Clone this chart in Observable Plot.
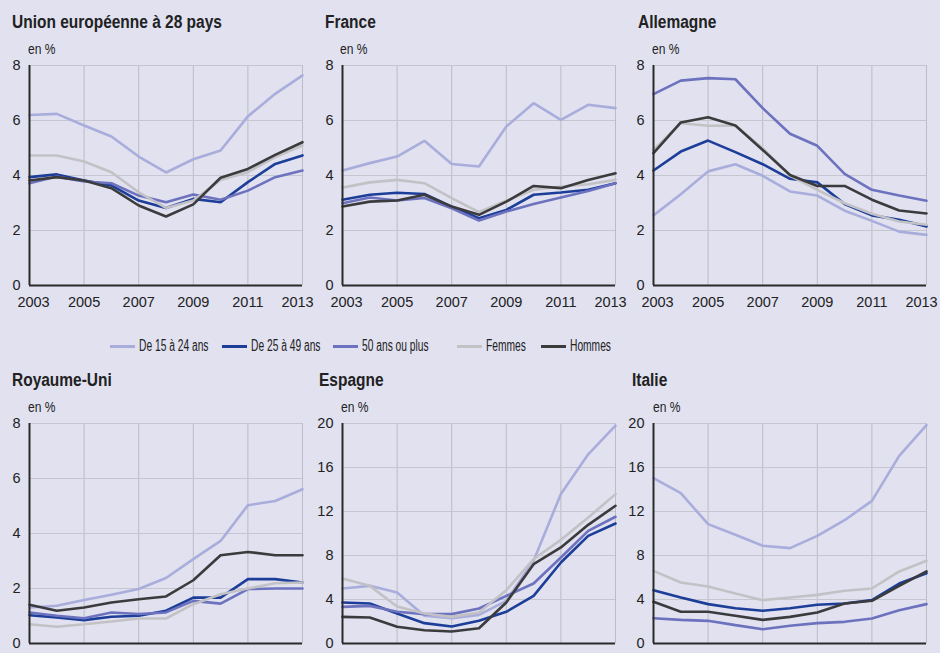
<!DOCTYPE html>
<html><head><meta charset="utf-8">
<script src="https://cdn.jsdelivr.net/npm/d3@7"></script>
<script src="https://cdn.jsdelivr.net/npm/@observablehq/plot@0.6"></script>
<style>
html,body{margin:0;padding:0;background:#e1e1f0;}
#root{position:relative;width:940px;height:653px;overflow:hidden;background:#e1e1f0;font-family:"Liberation Sans",Arial,sans-serif;color:#222;}
.t{position:absolute;font-weight:bold;font-size:18px;line-height:18px;white-space:nowrap;color:#222;transform:scaleX(0.86);transform-origin:left top;}
.u{position:absolute;font-size:14px;line-height:14px;white-space:nowrap;color:#222;transform:scaleX(0.86);transform-origin:left top;}
.p{position:absolute;}
.lg{position:absolute;font-size:16px;line-height:16px;white-space:nowrap;color:#222;transform:scaleX(0.64);transform-origin:left top;}
.sw{position:absolute;height:3px;width:25px;}
</style></head>
<body><div id="root"></div>
<script>
const years = [2003,2004,2005,2006,2007,2008,2009,2010,2011,2012,2013];
const xTicks = [2003,2005,2007,2009,2011,2013];
const series = ["De 15 à 24 ans","De 25 à 49 ans","50 ans ou plus","Femmes","Hommes"];
const colors = ["#a9addb","#1c3e99","#6c72be","#c2c2c6","#3b3b3d"];
const titles = ["Union européenne à 28 pays","France","Allemagne","Royaume-Uni","Espagne","Italie"];
const yTicks8 = [0,2,4,6,8];
const yTicks20 = [0,4,8,12,16,20];

// values per country, in the order of `series`
const ue28 = [
  [6.2,6.24,5.82,5.42,4.69,4.11,4.59,4.91,6.15,6.97,7.64],
  [3.94,4.04,3.82,3.64,3.09,2.82,3.15,3.03,3.76,4.42,4.73],
  [3.72,3.96,3.78,3.72,3.27,3.03,3.31,3.12,3.45,3.94,4.18],
  [4.73,4.73,4.51,4.12,3.39,2.82,3.09,3.84,4.12,4.67,5.09],
  [3.82,3.94,3.82,3.54,2.91,2.51,2.95,3.92,4.24,4.75,5.21]
];
const france = [
  [4.18,4.45,4.69,5.26,4.42,4.33,5.78,6.63,6.02,6.57,6.45],
  [3.12,3.3,3.37,3.33,2.87,2.45,2.75,3.3,3.38,3.48,3.72],
  [2.99,3.2,3.09,3.18,2.81,2.36,2.69,2.96,3.2,3.44,3.72],
  [3.56,3.75,3.84,3.72,3.18,2.67,3.08,3.48,3.6,3.68,3.84],
  [2.87,3.05,3.09,3.3,2.87,2.57,3.05,3.62,3.54,3.84,4.08]
];
const allemagne = [
  [2.55,3.32,4.15,4.41,3.99,3.42,3.27,2.72,2.35,1.96,1.84],
  [4.18,4.87,5.27,4.85,4.41,3.88,3.75,2.96,2.55,2.39,2.15],
  [6.96,7.45,7.54,7.5,6.45,5.52,5.08,4.06,3.48,3.27,3.08],
  [4.93,5.9,5.81,5.82,4.99,4.0,3.48,2.99,2.61,2.33,2.21],
  [4.81,5.93,6.12,5.82,4.93,4.02,3.62,3.62,3.12,2.73,2.62]
];
const royaumeUni = [
  [1.31,1.37,1.58,1.77,1.98,2.38,3.07,3.73,5.03,5.18,5.61],
  [1.03,0.95,0.85,0.97,1.01,1.19,1.67,1.67,2.34,2.34,2.22],
  [1.13,1.01,0.92,1.13,1.07,1.13,1.55,1.45,1.98,2.0,2.0],
  [0.7,0.61,0.7,0.8,0.91,0.91,1.43,1.79,2.0,2.19,2.22],
  [1.41,1.19,1.31,1.49,1.61,1.71,2.3,3.21,3.33,3.21,3.21]
];
const espagne = [
  [5.0,5.24,4.64,2.52,2.3,2.6,3.88,7.52,13.6,17.2,19.8],
  [3.73,3.64,2.73,1.85,1.55,2.06,2.88,4.33,7.36,9.79,10.91],
  [3.33,3.42,2.88,2.67,2.67,3.18,4.33,5.45,7.82,10.24,11.52],
  [5.91,5.24,3.36,2.73,2.42,2.82,4.85,7.67,9.42,11.45,13.58],
  [2.42,2.36,1.52,1.21,1.09,1.39,3.73,7.21,8.73,10.79,12.52]
];
const italie = [
  [15.03,13.67,10.85,9.88,8.88,8.67,9.79,11.21,12.97,17.06,19.85],
  [4.85,4.18,3.58,3.21,2.97,3.21,3.52,3.64,3.94,5.45,6.39],
  [2.3,2.15,2.06,1.67,1.3,1.61,1.85,1.97,2.27,3.03,3.58],
  [6.6,5.55,5.18,4.55,3.94,4.18,4.42,4.79,5.0,6.55,7.52],
  [3.79,2.88,2.88,2.52,2.15,2.42,2.82,3.64,3.88,5.24,6.55]
];

const root = document.getElementById("root");
const FONT = '"Liberation Sans",Arial,sans-serif';

function toRows(vals){
  const rows = [];
  vals.forEach((arr, si) => arr.forEach((v, i) => rows.push({year: years[i], value: v, s: series[si]})));
  return rows;
}

function addText(cls, txt, left, top){
  const d = document.createElement("div");
  d.className = cls; d.textContent = txt;
  d.style.left = left + "px"; d.style.top = top + "px";
  root.appendChild(d);
}

function panel(vals, yMax, yT, showX, left, top, ml, mr){
  const innerW = 273, innerH = 220;
  const mt = 10, mb = showX ? 30 : 10;
  const first = xTicks[0], last = xTicks[xTicks.length - 1];
  const xAxisOpts = {tickFormat: d => String(d), tickSize: 0, tickPadding: 11, label: null};
  const marks = [
    Plot.gridX(xTicks, {stroke: "#bcbcc6", strokeOpacity: 1, strokeWidth: 1}),
    Plot.gridY(yT, {stroke: "#c6c6d0", strokeOpacity: 1, strokeWidth: 1}),
    Plot.axisY(yT, {tickSize: 0, tickPadding: 9, label: null}),
    Plot.line(toRows(vals), {x: "year", y: "value", z: "s", stroke: "s", strokeWidth: 2.6, strokeLinejoin: "miter"}),
    Plot.ruleX([first], {stroke: "#2a2a2a", strokeWidth: 2}),
    Plot.ruleY([0], {stroke: "#2a2a2a", strokeWidth: 2})
  ];
  if (showX) {
    marks.push(
      Plot.axisX(xTicks.slice(1, -1), xAxisOpts),
      Plot.axisX([first], {...xAxisOpts, dx: 4}),
      Plot.axisX([last], {...xAxisOpts, dx: -5})
    );
  }
  const chart = Plot.plot({
    width: ml + innerW + mr,
    height: mt + innerH + mb,
    marginLeft: ml, marginRight: mr, marginTop: mt, marginBottom: mb,
    style: {background: "transparent", fontFamily: FONT, fontSize: "14.5px", color: "#222", overflow: "visible"},
    x: {domain: [first, last], axis: null},
    y: {domain: [0, yMax], axis: null},
    color: {domain: series, range: colors},
    marks
  });
  chart.classList.add("p");
  chart.style.left = left + "px";
  chart.style.top = (top - mt) + "px";
  root.appendChild(chart);
}

const row1Top = 65, row2Top = 423;
const lefts = [0, 310, 625];
const mls = [29, 32, 28];
const mrs = [8, 10, 13];
const titleX1 = [12, 325, 638];
const unitX1 = [28, 340, 652];
const titleX2 = [12, 319, 632];
const unitX2 = [28, 341, 653];
const data = [ue28, france, allemagne, royaumeUni, espagne, italie];

for (let i = 0; i < 3; i++){
  addText("t", titles[i], titleX1[i], 13);
  addText("u", "en %", unitX1[i], 42);
  panel(data[i], 8, yTicks8, true, lefts[i], row1Top, mls[i], mrs[i]);
}
for (let i = 0; i < 3; i++){
  addText("t", titles[3+i], titleX2[i], 371);
  addText("u", "en %", unitX2[i], 400);
  panel(data[3+i], i === 0 ? 8 : 20, i === 0 ? yTicks8 : yTicks20, false, lefts[i], row2Top, mls[i], mrs[i]);
}

// legend
const swX = [110, 222, 333, 457, 541];
const lgX = [139, 251, 362, 486, 570];
series.forEach((s, i) => {
  const sw = document.createElement("div");
  sw.className = "sw"; sw.style.left = swX[i] + "px"; sw.style.top = "345px"; sw.style.background = colors[i];
  root.appendChild(sw);
  addText("lg", s, lgX[i], 338);
});
</script></body></html>
